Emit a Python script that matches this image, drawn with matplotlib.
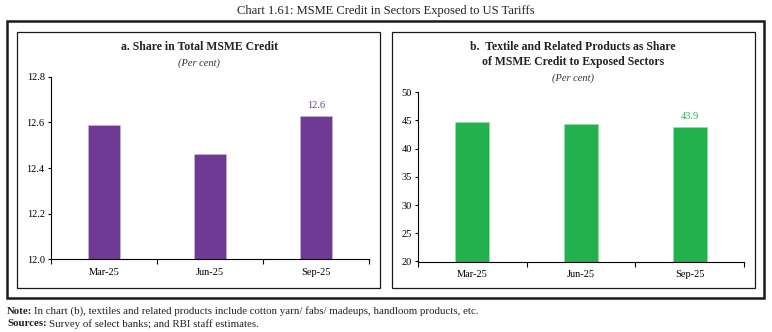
import matplotlib.pyplot as plt
from matplotlib.patches import Rectangle

# data
quarters = ["Mar-25", "Jun-25", "Sep-25"]
share_total = [12.59, 12.46, 12.63]
share_textile = [44.7, 44.3, 43.9]
label_total = "12.6"
label_textile = "43.9"

W, H = 772, 332
purple = "#6E3A94"
green = "#22B14C"
serif = ["Liberation Serif", "DejaVu Serif"]

plt.rcParams['font.family'] = serif

fig = plt.figure(figsize=(W / 100, H / 100), dpi=100)


def px_box(x0, y0, x1, y1):
    # pixel box (top-left origin) -> figure fraction rect
    return [x0 / W, (H - y1) / H, (x1 - x0) / W, (y1 - y0) / H]


def frame(x0, y0, x1, y1, lw):
    r = px_box(x0, y0, x1, y1)
    fig.patches.append(Rectangle((r[0], r[1]), r[2], r[3], transform=fig.transFigure,
                                 fill=False, edgecolor="#1a1a1a", linewidth=lw))


frame(7, 21, 764, 298, 1.8)
frame(17, 32, 380, 288, 0.9)
frame(392, 32, 755, 288, 0.9)

fig.text(0.5, 1 - 11 / H, "Chart 1.61: MSME Credit in Sectors Exposed to US Tariffs",
         ha="center", va="center", fontsize=9, color="#222222")


def bar_panel(rect, values, color, ylim, yticks, fmt, label):
    ax = fig.add_axes(rect)
    x = list(range(len(quarters)))
    ax.bar(x, values, width=0.31, color=color, edgecolor="#c9b8d8" if color == purple else "#9fdcae",
           linewidth=0.4)
    ax.set_xlim(-0.5, len(quarters) - 0.5)
    ax.set_ylim(*ylim)
    ax.set_yticks(yticks)
    ax.set_yticklabels([fmt.format(v) for v in yticks])
    ax.set_xticks(x)
    ax.set_xticklabels(quarters)
    ax.set_xticks([i + 0.5 for i in range(-1, len(quarters))], minor=True)
    ax.tick_params(axis="x", which="major", length=0, pad=6, labelsize=7.5)
    ax.tick_params(axis="x", which="minor", length=3.5, width=0.8, direction="out")
    ax.tick_params(axis="y", length=2.5, width=0.8, labelsize=7.5, pad=2)
    for s in ["top", "right"]:
        ax.spines[s].set_visible(False)
    for s in ["left", "bottom"]:
        ax.spines[s].set_linewidth(0.8)
    ax.annotate(label, (x[-1], values[-1]), xytext=(0, 4), textcoords="offset points",
                ha="center", va="bottom", fontsize=7.5, color=color)
    return ax


bar_panel(px_box(51, 76.7, 369, 259.3), share_total, purple, (12.0, 12.8),
          [12.0, 12.2, 12.4, 12.6, 12.8], "{:.1f}", label_total)
bar_panel(px_box(418, 92.3, 744, 261.5), share_textile, green, (20, 50),
          [20, 25, 30, 35, 40, 45, 50], "{:.0f}", label_textile)

# panel titles
fig.text(199 / W, 1 - 47 / H, "a. Share in Total MSME Credit", ha="center", va="center",
         fontsize=8.5, fontweight="bold", color="#222222")
fig.text(199 / W, 1 - 63 / H, "(Per cent)", ha="center", va="center",
         fontsize=7.5, style="italic", color="#333333")

fig.text(573 / W, 1 - 47 / H, "b.  Textile and Related Products as Share", ha="center",
         va="center", fontsize=8.5, fontweight="bold", color="#222222")
fig.text(573 / W, 1 - 62 / H, "of MSME Credit to Exposed Sectors", ha="center",
         va="center", fontsize=8.5, fontweight="bold", color="#222222")
fig.text(573 / W, 1 - 78 / H, "(Per cent)", ha="center", va="center",
         fontsize=7.5, style="italic", color="#333333")

# notes: bold lead word, plain text placed right after it
renderer = fig.canvas.get_renderer()
notes = [("Note:", " In chart (b), textiles and related products include cotton yarn/ fabs/ madeups, handloom products, etc.", 311),
         ("Sources:", " Survey of select banks; and RBI staff estimates.", 324)]
for head, body, ypx in notes:
    t = fig.text(7 / W, 1 - ypx / H, head, ha="left", va="center", fontsize=7.8,
                 fontweight="bold", color="#222222")
    bb = t.get_window_extent(renderer)
    fig.text(bb.x1 / W + 2 / W, 1 - ypx / H, body.strip(), ha="left", va="center",
             fontsize=7.8, color="#222222")

fig.savefig("out.png", dpi=100)
